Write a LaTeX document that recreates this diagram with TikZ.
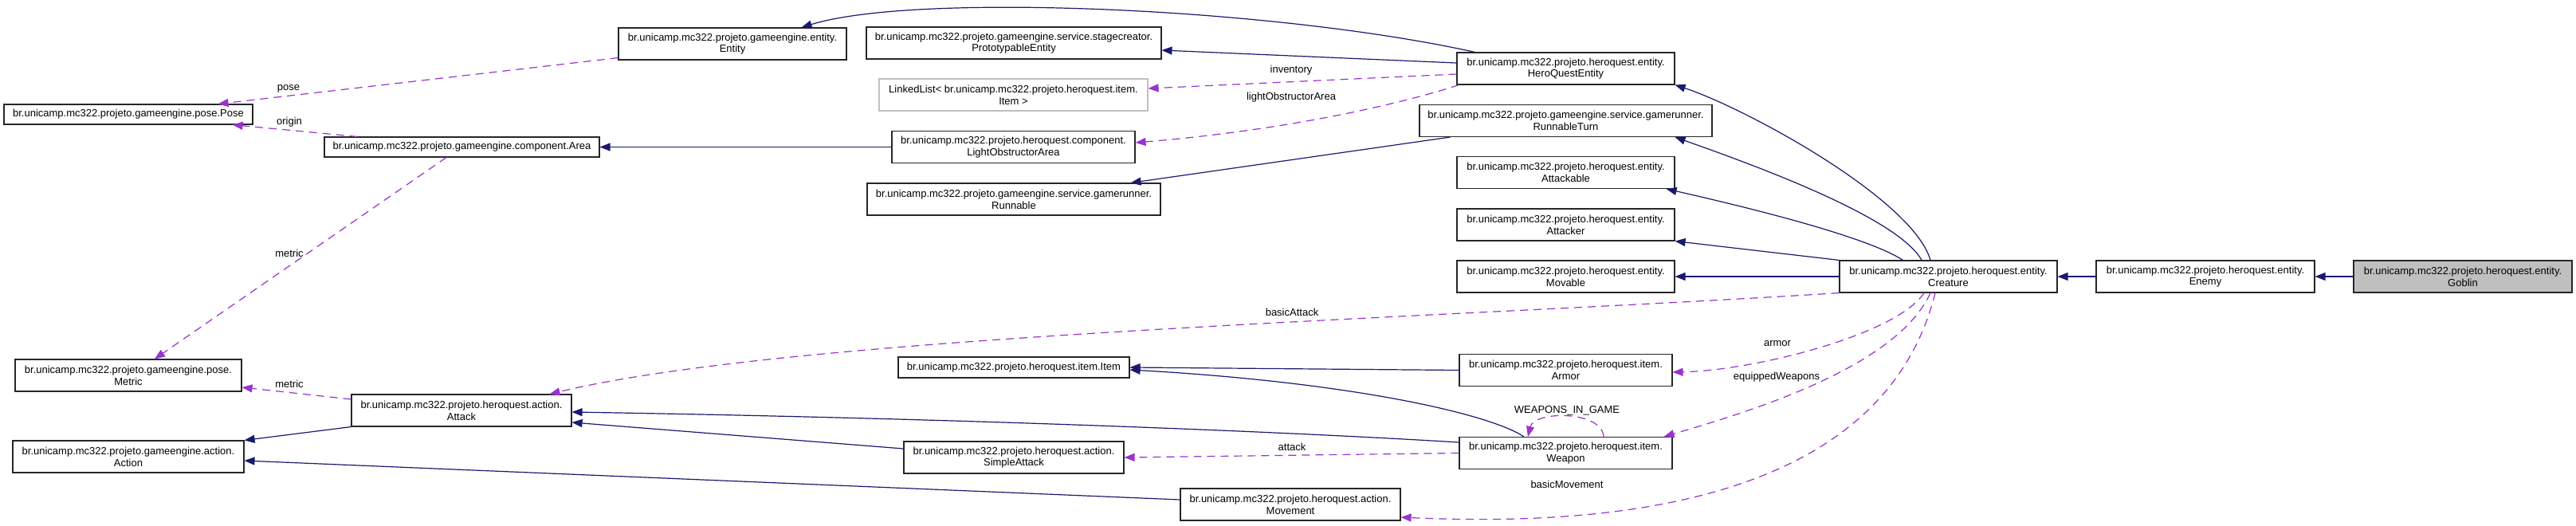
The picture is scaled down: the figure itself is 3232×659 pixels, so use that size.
\documentclass[tikz,border=0pt]{standalone}
\usepackage{fontspec}
\setmainfont{Liberation Sans}
\usetikzlibrary{arrows.meta}
\definecolor{inhc}{HTML}{191970}
\definecolor{usec}{HTML}{9A32CD}
\definecolor{greyf}{HTML}{BFBFBF}
\begin{document}
\begin{tikzpicture}[x=1pt,y=-1pt,
  box/.style={draw=black!85, line width=1.1pt, fill=white, align=center, inner sep=0pt,
    minimum height=40pt, font=\fontsize{13}{14.7}\selectfont},
  lbl/.style={inner sep=0pt, font=\fontsize{13}{14.7}\selectfont},
  inh/.style={draw=inhc, line width=1.2pt, -{Triangle[length=13pt,width=10pt]}},
  use/.style={draw=usec, line width=1.2pt, dash pattern=on 10pt off 7pt, -{Triangle[length=13pt,width=10pt]}}]
\useasboundingbox (0,0) rectangle (3232,659);
\fill[white] (0,0) rectangle (3232,659);
% nodes
\node[box, minimum width=312pt, minimum height=25pt] (pose) at (161,143.5) {br.unicamp.mc322.projeto.gameengine.pose.Pose};
\node[box, minimum width=345pt, minimum height=25pt] (area) at (579.5,184.5) {br.unicamp.mc322.projeto.gameengine.component.Area};
\node[box, minimum width=284pt] (metric) at (161,471) {br.unicamp.mc322.projeto.gameengine.pose.\\Metric};
\node[box, minimum width=276pt] (attack) at (579,515) {br.unicamp.mc322.projeto.heroquest.action.\\Attack};
\node[box, minimum width=290pt] (action) at (161,573) {br.unicamp.mc322.projeto.gameengine.action.\\Action};
\node[box, minimum width=286pt] (entity) at (919,55) {br.unicamp.mc322.projeto.gameengine.entity.\\Entity};
\node[box, minimum width=370pt] (proto) at (1272,54) {br.unicamp.mc322.projeto.gameengine.service.stagecreator.\\PrototypableEntity};
\node[box, draw=greyf, minimum width=337pt] (llist) at (1271.5,119) {LinkedList< br.unicamp.mc322.projeto.heroquest.item.\\Item >};
\node[box, minimum width=305pt] (loa) at (1271.5,184.5) {br.unicamp.mc322.projeto.heroquest.component.\\LightObstructorArea};
\node[box, minimum width=368pt] (runnable) at (1272,250) {br.unicamp.mc322.projeto.gameengine.service.gamerunner.\\Runnable};
\node[box, minimum width=290pt, minimum height=26pt] (item) at (1272,461) {br.unicamp.mc322.projeto.heroquest.item.Item};
\node[box, minimum width=276pt] (sattack) at (1272,574) {br.unicamp.mc322.projeto.heroquest.action.\\SimpleAttack};
\node[box, minimum width=276pt] (movement) at (1619,633) {br.unicamp.mc322.projeto.heroquest.action.\\Movement};
\node[box, minimum width=273pt] (hqe) at (1964.5,86) {br.unicamp.mc322.projeto.heroquest.entity.\\HeroQuestEntity};
\node[box, minimum width=367pt] (rturn) at (1964.5,151.5) {br.unicamp.mc322.projeto.gameengine.service.gamerunner.\\RunnableTurn};
\node[box, minimum width=273pt] (attackable) at (1964.5,216.5) {br.unicamp.mc322.projeto.heroquest.entity.\\Attackable};
\node[box, minimum width=273pt] (attacker) at (1964.5,282) {br.unicamp.mc322.projeto.heroquest.entity.\\Attacker};
\node[box, minimum width=273pt] (movable) at (1964.5,347) {br.unicamp.mc322.projeto.heroquest.entity.\\Movable};
\node[box, minimum width=267pt] (armor) at (1964.5,464.5) {br.unicamp.mc322.projeto.heroquest.item.\\Armor};
\node[box, minimum width=267pt] (weapon) at (1964.5,568.5) {br.unicamp.mc322.projeto.heroquest.item.\\Weapon};
\node[box, minimum width=273pt] (creature) at (2444.5,347) {br.unicamp.mc322.projeto.heroquest.entity.\\Creature};
\node[box, minimum width=274pt] (enemy) at (2767,347) {br.unicamp.mc322.projeto.heroquest.entity.\\Enemy};
\node[box, fill=greyf, minimum width=274pt] (goblin) at (3090,347) {br.unicamp.mc322.projeto.heroquest.entity.\\Goblin};
% inheritance
\draw[inh] (goblin.west) -- (enemy.east);
\draw[inh] (enemy.west) -- (creature.east);
\draw[inh] (creature.west) -- (movable.east);
\draw[inh] (creature.north west) -- (attacker.south east);
\draw[inh] ([xshift=80pt]creature.north west) .. controls (2340,295) and (2170,255) .. ([xshift=-11pt]attackable.south east);
\draw[inh] ([xshift=-33.5pt]creature.north) .. controls (2380,270) and (2180,200) .. ([xshift=-47pt]rturn.south east);
\draw[inh] ([xshift=-22.5pt]creature.north) .. controls (2400,250) and (2191,136) .. (hqe.south east);
\draw[inh] ([xshift=23pt]hqe.north west) .. controls (1600,10) and (1150,-10) .. ([xshift=-57pt]entity.north east);
\draw[inh] ([yshift=7pt]hqe.west) -- ([yshift=-9pt]proto.east);
\draw[inh] (loa.west) -- (area.east);
\draw[inh] ([xshift=39pt]rturn.south west) -- ([xshift=-38pt]runnable.north east);
\draw[inh] (armor.west) -- (item.east);
\draw[inh] ([xshift=-52.5pt]weapon.north) .. controls (1870,520) and (1700,480) .. ([yshift=-3pt]item.east);
\draw[inh] ([yshift=13.5pt]weapon.west) .. controls (1600,541) and (1200,525) .. ([yshift=-2pt]attack.east);
\draw[inh] ([yshift=11pt]sattack.west) -- ([yshift=-15pt]attack.east);
\draw[inh] (attack.south west) -- (action.north east);
\draw[inh] ([yshift=6pt]movement.west) -- ([yshift=-5pt]action.east);
% usage
\draw[use] ([yshift=3pt]entity.south west) -- ([xshift=-44pt]pose.north east);
\draw[use] ([xshift=42pt]area.north west) -- ([xshift=-26pt]pose.south east);
\draw[use] ([xshift=-19.5pt]area.south) -- ([xshift=33pt]metric.north);
\draw[use] ([yshift=14pt]attack.west) -- ([yshift=-15pt]metric.east);
\draw[use] ([yshift=-7pt]hqe.west) -- ([yshift=8pt]llist.east);
\draw[use] ([xshift=3pt]hqe.south west) .. controls (1790,120) and (1650,160) .. ([yshift=5.5pt]loa.east);
\draw[use] (creature.south west) .. controls (1800,400) and (1000,420) .. ([xshift=-28pt]attack.north east);
\draw[use] ([xshift=-30.5pt]creature.south) .. controls (2380,420) and (2200,465) .. ([yshift=-2.5pt]armor.east);
\draw[use] ([xshift=-22.5pt]creature.south) .. controls (2380,460) and (2200,515) .. ([xshift=-11pt]weapon.north east);
\draw[use] ([xshift=-16.5pt]creature.south) .. controls (2360,640) and (2000,660) .. ([yshift=-16pt]movement.east);
\draw[use] ([xshift=47.5pt]weapon.north) .. controls (2010,515) and (1925,515) .. ([xshift=-47.5pt]weapon.north);
\draw[use] (weapon.west) -- (sattack.east);
% labels
\node[lbl] (lpose) at (362,111) {pose};
\node[lbl] (lorigin) at (363,153) {origin};
\node[lbl] (lmetric1) at (363,318) {metric};
\node[lbl] (lmetric2) at (363,482) {metric};
\node[lbl] (linv) at (1620,88) {inventory};
\node[lbl] (lloa) at (1620,122) {lightObstructorArea};
\node[lbl] (lbasic) at (1621,392) {basicAttack};
\node[lbl] (larmor) at (2230,431) {armor};
\node[lbl] (lequip) at (2229,473) {equippedWeapons};
\node[lbl] (lwig) at (1966,515) {WEAPONS\_IN\_GAME};
\node[lbl] (latt) at (1621,561) {attack};
\node[lbl] (lmove) at (1966,608) {basicMovement};
\end{tikzpicture}
\end{document}
